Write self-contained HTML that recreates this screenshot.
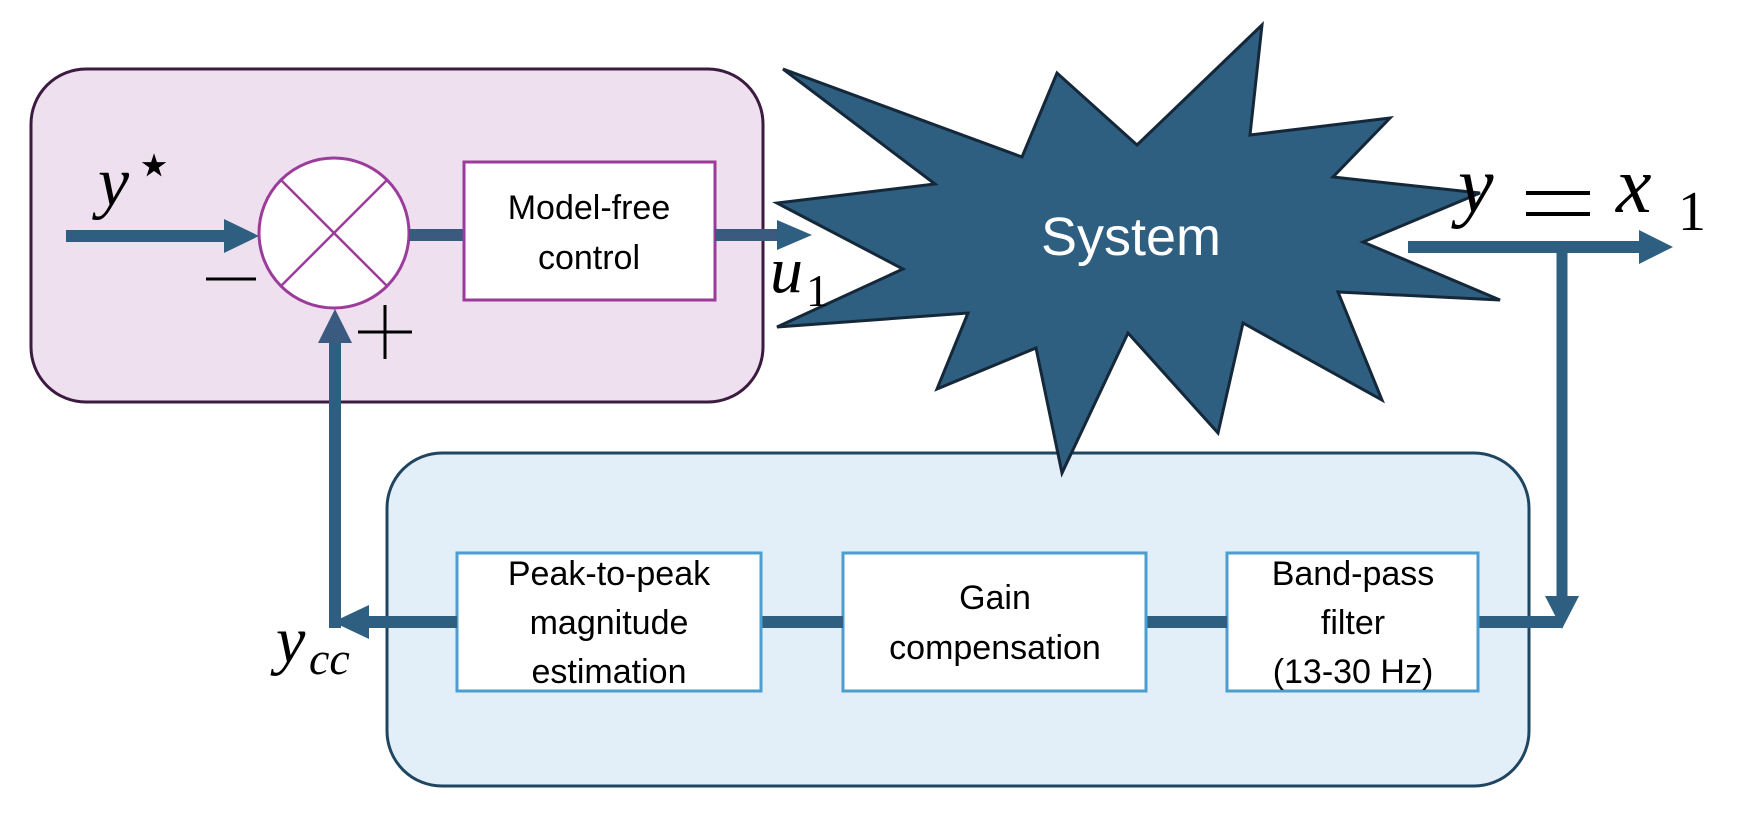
<!DOCTYPE html>
<html><head><meta charset="utf-8"><style>
html,body{margin:0;padding:0;background:#fff}
svg{display:block}
.s{font-family:"Liberation Sans",sans-serif;font-size:34px;fill:#000;text-anchor:middle}
.m{font-family:"Liberation Serif",serif;font-style:italic;fill:#000}
</style></head><body>
<svg width="1744" height="818" viewBox="0 0 1744 818" xmlns="http://www.w3.org/2000/svg">
<rect x="31" y="69" width="732" height="333" rx="55" fill="#eee0ef" stroke="#3d1a40" stroke-width="3"/>
<rect x="387" y="453" width="1142" height="333" rx="55" fill="#e2eff8" stroke="#1f4560" stroke-width="3"/>
<polygon points="783,69 1022,157 1057,73 1137,145 1262,25 1250,135 1390,118 1333,177 1480,193 1363,242 1500,300 1338,292 1382,400 1243,323 1218,433 1128,333 1062,473 1036,348 937,389 968,313 777,327 903,269 777,203 935,184" fill="#2f5f80" stroke="#14283a" stroke-width="3" stroke-linejoin="miter"/>
<text x="1131" y="255" font-family="Liberation Sans,sans-serif" font-size="54" fill="#fff" text-anchor="middle">System</text>

<line x1="66" y1="236" x2="232" y2="236" stroke="#2e5f80" stroke-width="12"/>
<polygon points="224,219 259,236 224,253" fill="#2e5f80"/>
<text class="m" x="98" y="205" font-size="70">y</text>
<text x="134" y="186" font-family="Liberation Serif,serif" font-size="64" fill="#000">⋆</text>
<circle cx="334" cy="233" r="75" fill="#fff" stroke="#9b3c9b" stroke-width="3"/>
<line x1="281" y1="180" x2="387" y2="286" stroke="#9b3c9b" stroke-width="2.5"/>
<line x1="387" y1="180" x2="281" y2="286" stroke="#9b3c9b" stroke-width="2.5"/>
<line x1="206" y1="279" x2="256" y2="279" stroke="#000" stroke-width="3"/>
<line x1="358" y1="332" x2="412" y2="332" stroke="#000" stroke-width="3"/>
<line x1="385" y1="305" x2="385" y2="359" stroke="#000" stroke-width="3"/>
<line x1="409" y1="235" x2="464" y2="235" stroke="#3b5a80" stroke-width="12"/>
<rect x="464" y="162" width="251" height="138" fill="#fff" stroke="#9b3c9b" stroke-width="3"/>
<text class="s" x="589" y="219">Model-free</text>
<text class="s" x="589" y="269">control</text>
<line x1="715" y1="235" x2="785" y2="235" stroke="#3b5a80" stroke-width="12"/>
<polygon points="777,220 812,235 777,250" fill="#2e5f80"/>
<text class="m" x="770" y="292" font-size="66">u</text>
<text x="806" y="306" font-family="Liberation Serif,serif" font-size="46" fill="#000">1</text>

<line x1="1408" y1="247" x2="1645" y2="247" stroke="#2e5f80" stroke-width="12"/>
<polygon points="1639,230 1673,247 1639,264" fill="#2e5f80"/>
<text class="m" x="1458" y="212" font-size="80">y</text>
<line x1="1526" y1="193" x2="1590" y2="193" stroke="#000" stroke-width="4"/>
<line x1="1526" y1="214" x2="1590" y2="214" stroke="#000" stroke-width="4"/>
<text class="m" x="1616" y="212" font-size="80">x</text>
<text x="1678" y="230" font-family="Liberation Serif,serif" font-size="56" fill="#000">1</text>
<line x1="1562" y1="247" x2="1562" y2="600" stroke="#2e5f80" stroke-width="11"/>
<polygon points="1545,596 1579,596 1562,629" fill="#2e5f80"/>
<line x1="1478" y1="622" x2="1562" y2="622" stroke="#2e5f80" stroke-width="12"/>

<rect x="1227" y="553" width="251" height="138" fill="#fff" stroke="#4a9ed0" stroke-width="3"/>
<text class="s" x="1353" y="585">Band-pass</text>
<text class="s" x="1353" y="634">filter</text>
<text class="s" x="1353" y="683">(13-30 Hz)</text>
<line x1="1146" y1="622" x2="1227" y2="622" stroke="#2e5f80" stroke-width="12"/>
<rect x="843" y="553" width="303" height="138" fill="#fff" stroke="#4a9ed0" stroke-width="3"/>
<text class="s" x="995" y="609">Gain</text>
<text class="s" x="995" y="659">compensation</text>
<line x1="761" y1="622" x2="843" y2="622" stroke="#2e5f80" stroke-width="12"/>
<rect x="457" y="553" width="304" height="138" fill="#fff" stroke="#4a9ed0" stroke-width="3"/>
<text class="s" x="609" y="585">Peak-to-peak</text>
<text class="s" x="609" y="634">magnitude</text>
<text class="s" x="609" y="683">estimation</text>
<line x1="360" y1="622" x2="457" y2="622" stroke="#2e5f80" stroke-width="12"/>
<polygon points="369,605 333,622 369,639" fill="#2e5f80"/>
<line x1="335" y1="628" x2="335" y2="340" stroke="#2e5f80" stroke-width="12"/>
<polygon points="318,343 352,343 335,309" fill="#3b5a80"/>
<text class="m" x="276" y="662" font-size="66">y</text>
<text class="m" x="309" y="674" font-size="46">cc</text>
</svg>
</body></html>
